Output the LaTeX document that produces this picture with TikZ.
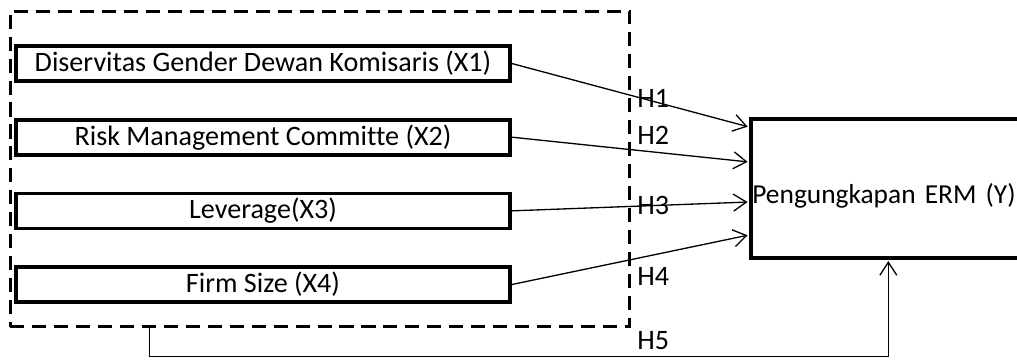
\documentclass[tikz,border=0pt]{standalone}
\usepackage{fontspec}
\setmainfont{Carlito}[Ligatures=CommonOff]
\usetikzlibrary{positioning,arrows.meta}

\begin{document}
\begin{tikzpicture}[
    x=0.02cm, y=-0.02cm,
    node distance=0.7cm,
    txt/.style={font=\fontsize{16}{19}\selectfont},
    box/.style={rectangle, draw, line width=2.1pt, minimum width=9.88cm, minimum height=0.7cm, inner sep=0pt, txt},
    groupbox/.style={rectangle, draw, line width=1.7pt, dash pattern=on 8pt off 4.5pt, minimum width=12.4cm, minimum height=6.32cm},
    bigbox/.style={rectangle, draw, line width=2.1pt, minimum width=5.5cm, minimum height=2.78cm, text width=5.44cm, text height=0.7cm, inner xsep=0.03cm, align=left, font=\fontsize{15.6}{19}\selectfont},
    arrow/.style={-{Straight Barb[length=2.6mm, width=3.4mm]}, line width=0.75pt, shorten >=0.8pt},
    hlab/.style={anchor=west, inner sep=0pt, txt}
]
    \useasboundingbox (0,0) rectangle (1017,359);

    % Independent variables
    \node[groupbox] (grp) at (320,169) {};
    \node[box] (x1) at (263,63.5) {Diservitas Gender Dewan Komisaris (X1)};
    \node[box, below=of x1] (x2) {Risk Management Committe (X2)};
    \node[box, below=of x2] (x3) {Leverage(X3)};
    \node[box, below=of x3] (x4) {Firm Size (X4)};

    % Dependent variable
    \node[bigbox, anchor=north west] (erm) at (749,117) {Pengungkapan ERM (Y)};

    % Arrows
    \draw[arrow] (x1.east) -- ([yshift=-0.2cm]erm.north west);
    \draw[arrow] (x2.east) -- ([yshift=-0.9cm]erm.north west);
    \draw[arrow] (x3.east) -- ([yshift=-1.7cm]erm.north west);
    \draw[arrow] (x4.east) -- ([yshift=-2.36cm]erm.north west);
    \draw[arrow] ([xshift=2.82cm]grp.south west) -- ++(0,28) -| (erm.south);

    % Hypotheses
    \node[hlab] (h1) at (637,98) {H1};
    \node[hlab] (h2) at (637,135) {H2};
    \node[hlab] (h3) at (637,205) {H3};
    \node[hlab] (h4) at (637,276) {H4};
    \node[hlab] (h5) at (637,341) {H5};
\end{tikzpicture}
\end{document}
